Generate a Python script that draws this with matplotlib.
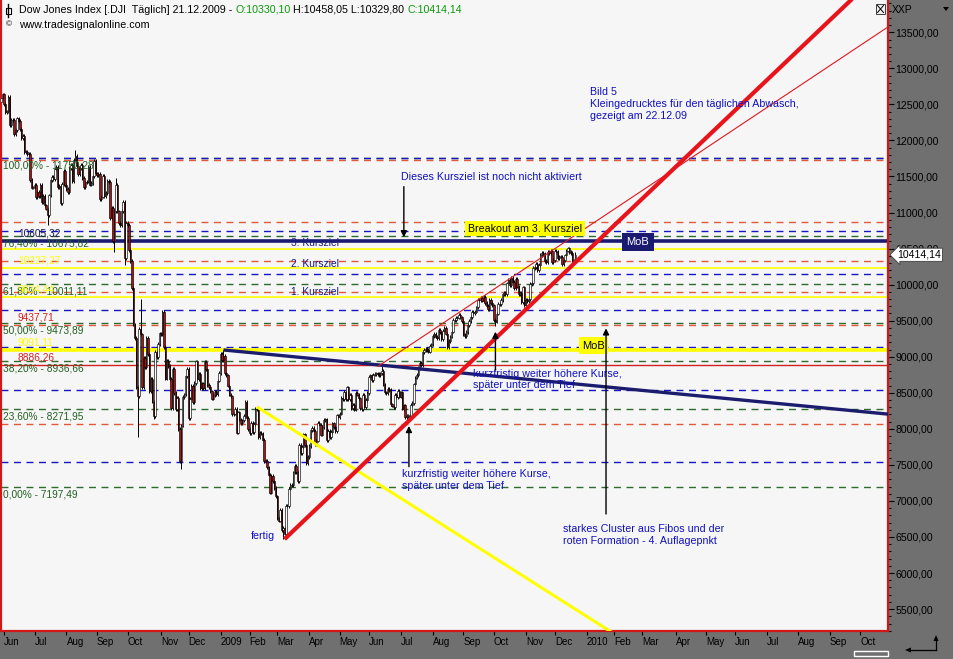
import matplotlib
matplotlib.use("Agg")
import matplotlib.pyplot as plt
import matplotlib.ticker as mticker
from matplotlib.patches import Rectangle, Polygon
from matplotlib.lines import Line2D
import numpy as np
import pandas as pd

plt.rcParams['font.family'] = ['Liberation Sans', 'DejaVu Sans']

# NYSE holidays, used to build the trading-day axis
holidays = ["2008-07-04", "2008-09-01", "2008-11-27", "2008-12-25", "2009-01-01",
            "2009-01-19", "2009-02-16", "2009-04-10", "2009-05-25", "2009-07-03",
            "2009-09-07", "2009-11-26", "2009-12-25", "2010-01-01", "2010-01-18",
            "2010-02-15", "2010-04-02", "2010-05-31", "2010-07-05", "2010-09-06",
            "2010-11-25", "2010-12-24"]

first_open = 12540
# daily closes, 29.05.2008 .. 31.12.2008 (one row per month)
closes_2008 = [
    12593, 12638,
    12503, 12390, 12404, 12604, 12209, 12280, 12289, 12084, 12141, 12307, 12269,
    12160, 12029, 12063, 11842, 11842, 11807, 11811, 11453, 11346, 11350,
    11382, 11215, 11288, 11231, 11384, 11147, 11229, 11100, 11055, 10962, 11239,
    11446, 11496, 11467, 11603, 11632, 11349, 11371, 11132, 11397, 11583, 11378,
    11326, 11284, 11615, 11656, 11432, 11734, 11782, 11642, 11532, 11616, 11660,
    11480, 11349, 11417, 11430, 11628, 11387, 11413, 11502, 11715, 11544,
    11517, 11533, 11188, 11220, 11511, 11231, 11268, 11434, 11421, 10918, 11059,
    10609, 11020, 11388, 11016, 10854, 10825, 11023, 11143, 10365, 10851,
    10831, 10483, 10325, 9955, 9447, 9258, 8579, 8451, 9388, 9311, 8578, 8979,
    8852, 9265, 9034, 8519, 8691, 8379, 8175, 9065, 8991, 9180, 9325,
    9319, 9625, 9139, 8696, 8943, 8870, 8694, 8283, 8835, 8497, 8273, 8425,
    7997, 7552, 8046, 8443, 8479, 8726, 8829,
    8149, 8419, 8591, 8376, 8635, 8934, 8691, 8762, 8565, 8629, 8565, 8924,
    8825, 8604, 8579, 8519, 8419, 8468, 8515, 8483, 8668, 8776,
]
# daily closes, 02.01.2009 .. 21.12.2009
closes_2009 = [
    9034, 8953, 9015, 8770, 8742, 8600, 8474, 8449, 8200, 8212, 8281, 7949,
    8228, 8123, 8078, 8117, 8175, 8375, 8149, 8001,
    7936, 8078, 7956, 8063, 8281, 8270, 7888, 7939, 7933, 7850, 7553, 7555,
    7466, 7366, 7115, 7351, 7270, 7182, 7063,
    6763, 6726, 6876, 6594, 6627, 6547, 6926, 6930, 7170, 7224, 7217, 7395,
    7487, 7400, 7279, 7776, 7660, 7750, 7924, 7776, 7522, 7609,
    7761, 7978, 8017, 7975, 7790, 7837, 8083, 8058, 7920, 8029, 8126, 8131,
    7841, 7970, 7887, 7957, 8076, 8025, 7969, 8186, 8168,
    8212, 8426, 8410, 8512, 8409, 8575, 8418, 8469, 8285, 8331, 8268, 8504,
    8475, 8423, 8292, 8277, 8473, 8300, 8403, 8500,
    8721, 8740, 8675, 8751, 8764, 8764, 8763, 8740, 8770, 8799, 8613, 8505,
    8497, 8555, 8540, 8340, 8323, 8300, 8472, 8438, 8529, 8447,
    8505, 8280, 8324, 8163, 8179, 8183, 8146, 8332, 8359, 8616, 8711, 8744,
    8848, 8916, 8881, 9069, 9093, 9109, 9097, 9071, 9155, 9172,
    9286, 9320, 9280, 9257, 9370, 9338, 9242, 9362, 9398, 9321, 9136, 9218,
    9279, 9350, 9506, 9509, 9540, 9543, 9580, 9545, 9497,
    9310, 9281, 9345, 9441, 9497, 9547, 9627, 9605, 9627, 9684, 9792, 9784,
    9820, 9779, 9830, 9749, 9707, 9666, 9790, 9742, 9712,
    9510, 9488, 9599, 9731, 9726, 9787, 9865, 9885, 9871, 10016, 10063, 9996,
    10092, 10041, 9950, 10082, 9972, 9868, 9883, 9762, 9962, 9713,
    9790, 9772, 9802, 10006, 10023, 10227, 10247, 10291, 10198, 10270, 10407,
    10438, 10426, 10332, 10318, 10451, 10434, 10464, 10310, 10345,
    10471, 10453, 10369, 10389, 10390, 10286, 10338, 10405, 10471, 10502, 10452,
    10441, 10309, 10329, 10414,
]
# intraday extremes that stick out of the bodies
wick_high = {"2008-08-11": 11867, "2008-09-19": 11483, "2008-10-14": 9794,
             "2008-11-04": 9654, "2009-01-06": 9088, "2009-02-09": 8320,
             "2009-06-12": 8878, "2009-12-14": 10516, "2009-12-21": 10458}
wick_low = {"2008-07-15": 10827, "2008-09-18": 10459, "2008-09-29": 10266,
            "2008-10-10": 7882, "2008-10-27": 8140, "2008-11-21": 7449,
            "2008-12-01": 8140, "2009-03-06": 6470, "2009-07-08": 8087,
            "2009-10-02": 9430}

fib_levels = [7197.49, 8271.95, 8936.66, 9473.89, 10011.11, 10675.82, 11750.28]
fib_labels = ["0,00% - 7197,49", "23,60% - 8271,95", "38,20% - 8936,66",
              "50,00% - 9473,89", "61,80% - 10011,11", "76,40% - 10675,82",
              "100,00% - 11750,28"]
blue_levels = [7536, 8539, 9139, 9648, 10148, 10748, 11756]
red_levels = [8067, 9437.71, 9898, 10328, 10865, 11725]
yellow_levels = [9834.44, 10227.27, 10499]
yellow_main = 9091.11
red_main = 8886.26
navy_level = 10605.32
level_labels = [(9437.71, "9437,71", "#D42020"), (9091.11, "9091,11", "#FFFF00"),
                (8886.26, "8886,26", "#D42020"), (10605.32, "10605,32", "#1A1A50"),
                (10227.27, "10227,27", "#FFFF00"), (9834.44, "9834,44", "#FFFF00")]

# trend lines: two anchors (date, price), extended to the right
trend_red = [("2009-03-09", 6470), ("2009-07-10", 8120)]
trend_red_thin = [("2009-06-09", 8862), ("2009-12-17", 10660)]
trend_navy = [("2009-01-06", 9094), ("2009-12-21", 8623)]
trend_yellow = [("2009-02-09", 8305), ("2009-07-10", 6960)]

month_names = ["", "Feb", "Mar", "Apr", "May", "Jun", "Jul", "Aug", "Sep", "Oct", "Nov", "Dec"]

W, H = 954, 659
fig = plt.figure(figsize=(W / 100, H / 100), dpi=100, facecolor='#707070')
ax = fig.add_axes([1 / W, 28 / H, 887 / W, 631 / H])
ax.set_facecolor('#F6F6F6')

cal = pd.bdate_range("2008-05-29", "2010-12-31")
cal = cal[~cal.isin(pd.to_datetime(holidays))]
pos = {d.strftime("%Y-%m-%d"): i for i, d in enumerate(cal)}

close = np.array(closes_2008 + closes_2009, float)
n = len(close)
x = np.arange(n)
opn = np.r_[first_open, close[:-1]]
wick_pad = 25
hi = np.maximum(opn, close) + wick_pad
lo = np.minimum(opn, close) - wick_pad
for d, v in wick_high.items():
    hi[pos[d]] = max(hi[pos[d]], v)
for d, v in wick_low.items():
    lo[pos[d]] = min(lo[pos[d]], v)

X0, X1 = -0.06, 610.2
Y0, Y1 = 5196, 13948
ax.set_xlim(X0, X1)
ax.set_ylim(Y0, Y1)

dash = (0, (5, 4))
for v in fib_levels:
    ax.axhline(v, color='#2E6B2E', lw=1, ls=dash, zorder=1)
for v in red_levels:
    ax.axhline(v, color='#E2583A', lw=1, ls=dash, zorder=1)
for v in blue_levels:
    ax.axhline(v, color='#1414C8', lw=1, ls=dash, zorder=1)
for v in yellow_levels:
    ax.axhline(v, color='#FFFF00', lw=1.2, zorder=1)
ax.axhline(yellow_main, color='#FFFF00', lw=2.6, zorder=1)
ax.axhline(red_main, color='#D42020', lw=1, zorder=1)
ax.axhline(navy_level, color='#1A1A70', lw=2.6, zorder=1)

# candles
up = close >= opn
ax.vlines(x, lo, hi, color='black', lw=0.7, zorder=2)
body_lo = np.minimum(opn, close)
body_h = np.maximum(np.abs(close - opn), 8)
ax.bar(x[up], body_h[up], bottom=body_lo[up], width=0.95, color='white',
       edgecolor='black', lw=0.45, zorder=3)
ax.bar(x[~up], body_h[~up], bottom=body_lo[~up], width=0.95, color='#A81414',
       edgecolor='black', lw=0.45, zorder=3)


def trend(pts, color, lw, x_end=X1 + 5):
    (d0, p0), (d1, p1) = pts
    i0, i1 = pos[d0], pos[d1]
    slope = (p1 - p0) / (i1 - i0)
    ax.plot([i0, x_end], [p0, p0 + slope * (x_end - i0)], color=color, lw=lw,
            zorder=4, solid_capstyle='butt')


trend(trend_yellow, '#FFFF00', 2.2)
trend(trend_navy, '#1C1C6E', 2.4)
trend(trend_red_thin, '#E01820', 0.8)
trend(trend_red, '#E8141C', 3.0)

# level labels
for v, s in zip(fib_levels, fib_labels):
    ax.annotate(s, (1.3, v), xytext=(0, -7.5), textcoords='offset pixels',
                va='center', ha='left', fontsize=7.3, color='#226022', zorder=5)
for v, s, c in level_labels:
    ax.annotate(s, (11.6, v), xytext=(0, 7.5), textcoords='offset pixels',
                va='center', ha='left', fontsize=7.3, color=c, zorder=5)

blue = '#1010C0'
fs = 7.7
ax.text(199.2, 10574, "3. Kursziel", color='#1A1A80', fontsize=7.4, va='center', zorder=5)
ax.text(199.2, 10282, "2. Kursziel", color='#1A1A80', fontsize=7.4, va='center', zorder=5)
ax.text(199.2, 9894, "1. Kursziel", color='#1A1A80', fontsize=7.4, va='center', zorder=5)
ax.text(275.4, 11497, "Dieses Kursziel ist noch nicht aktiviert", color=blue,
        fontsize=fs, va='center', zorder=5)
ax.text(276.0, 7290, "kurzfristig weiter höhere Kurse,\nspäter unter dem Tief",
        color=blue, fontsize=fs, va='center', linespacing=1.2, zorder=5)
ax.text(324.8, 8687, "kurzfristig weiter höhere Kurse,\nspäter unter dem Tief",
        color=blue, fontsize=fs, va='center', linespacing=1.2, zorder=5)
ax.text(386.7, 6528, "starkes Cluster aus Fibos und der\nroten Formation - 4. Auflagepnkt",
        color=blue, fontsize=fs, va='center', linespacing=1.2, zorder=5)
ax.text(405.4, 12506, "Bild 5\nKleingedrucktes für den täglichen Abwasch,\ngezeigt am 22.12.09",
        color=blue, fontsize=fs, va='center', linespacing=1.2, zorder=5)
ax.text(171.8, 6514, "fertig", color=blue, fontsize=fs, va='center', zorder=5)

ax.text(360.3, 10776, "Breakout am 3. Kursziel", color='black', fontsize=fs,
        ha='center', va='center', zorder=6,
        bbox=dict(boxstyle='square,pad=0.25', fc='#FFFF00', ec='none'))
ax.text(438.1, 10592, "MoB", color='white', fontsize=fs + 0.3, ha='center',
        va='center', zorder=6,
        bbox=dict(boxstyle='square,pad=0.4', fc='#1A1A70', ec='none'))
ax.text(407.4, 9152, "MoB", color='black', fontsize=fs + 0.3, ha='center',
        va='center', zorder=6,
        bbox=dict(boxstyle='square,pad=0.3', fc='#FFFF00', ec='none'))

arrows = [((277.1, 11359), (277.1, 10657)), ((280.6, 7475), (280.6, 8040)),
          ((340.1, 8816), (340.1, 9347)), ((416.2, 6819), (416.2, 9394))]
for tail, tip in arrows:
    ax.annotate('', xy=tip, xytext=tail, zorder=6,
                arrowprops=dict(arrowstyle='-|>', color='black', lw=1,
                                mutation_scale=9, shrinkA=0, shrinkB=0))

# axes styling
for side in ('left', 'right', 'bottom'):
    ax.spines[side].set_color('#D01818')
    ax.spines[side].set_linewidth(1.6)
ax.spines['top'].set_visible(False)

ax.yaxis.tick_right()
ax.set_yticks(np.arange(5500, 13501, 500))
ax.yaxis.set_major_formatter(mticker.FuncFormatter(lambda v, p: f"{v:.2f}".replace('.', ',')))
ax.yaxis.set_minor_locator(mticker.MultipleLocator(100))
ax.tick_params(axis='y', which='major', direction='out', length=4, width=0.8,
               colors='black', labelsize=7.6, pad=1.5)
ax.tick_params(axis='y', which='minor', direction='out', length=2, width=0.8, colors='black')

cal_s = pd.Series(np.arange(len(cal)), index=cal)
firsts = cal_s.groupby([cal.year, cal.month]).first()
tick_pos, tick_lab = [], []
for (yr, mo), i in firsts.items():
    if i < 2 or i > X1:
        continue
    tick_pos.append(i)
    tick_lab.append(str(yr) if mo == 1 else month_names[mo - 1])
ax.set_xticks(tick_pos)
ax.set_xticklabels(tick_lab)
ax.tick_params(axis='x', direction='out', length=3, width=0.8, colors='black',
               labelsize=7.0, pad=1.5)
for lbl in ax.get_xticklabels():
    lbl.set_ha('left')

# price tag at the right
ax.annotate("10414,14", xy=(1.0, 10414.14), xycoords=('axes fraction', 'data'),
            xytext=(9, 0), textcoords='offset pixels', ha='left', va='center',
            fontsize=7.6, color='black', annotation_clip=False, zorder=7,
            bbox=dict(boxstyle='larrow,pad=0.15', fc='white', ec='#404040', lw=0.6))


def fpx(px, py):
    return px / W, 1 - py / H


# header text pieces
renderer = fig.canvas.get_renderer()
head = [("Dow Jones Index [.DJI  Täglich] 21.12.2009 - ", 'black'),
        ("O:10330,10", '#0A9A0A'), (" H:10458,05 L:10329,80 ", 'black'),
        ("C:10414,14", '#0A9A0A')]
hx = 19
for s, c in head:
    t = fig.text(*fpx(hx, 10), s, color=c, fontsize=7.7, va='center', ha='left')
    hx += t.get_window_extent(renderer=renderer).width
fig.text(*fpx(6, 25), "©", fontsize=6, va='center', ha='left')
fig.text(*fpx(19, 25), "www.tradesignalonline.com", fontsize=7.7, va='center', ha='left')

# small chart icon in the header
fig.add_artist(Line2D([8.5 / W, 8.5 / W], [1 - 4 / H, 1 - 17 / H], color='black', lw=1))
fig.add_artist(Rectangle(fpx(6, 14), 5 / W, 6 / H, fc='white', ec='black', lw=0.8))

# top right: close box, "XXP" and dropdown
fig.add_artist(Rectangle(fpx(876, 14), 9 / W, 10 / H, fc='#F0F0F0', ec='#404040', lw=0.7))
fig.add_artist(Line2D([877.5 / W, 883.5 / W], [1 - 5.5 / H, 1 - 12.5 / H], color='black', lw=0.7))
fig.add_artist(Line2D([877.5 / W, 883.5 / W], [1 - 12.5 / H, 1 - 5.5 / H], color='black', lw=0.7))
fig.text(*fpx(892, 10), "XXP", fontsize=7.5, va='center', ha='left', color='black')
fig.add_artist(Polygon([fpx(943, 7), fpx(949, 7), fpx(946, 11)], closed=True, fc='black', ec='none'))

# bottom right: scroll thumb and corner arrow
fig.add_artist(Rectangle(fpx(854, 656), 34 / W, 5 / H, fc='#707070', ec='white', lw=1))
fig.add_artist(Line2D([908 / W, 936 / W], [1 - 650 / H, 1 - 650 / H], color='black', lw=0.9))
fig.add_artist(Line2D([936 / W, 936 / W], [1 - 650 / H, 1 - 638 / H], color='black', lw=0.9))
fig.add_artist(Polygon([fpx(905, 650), fpx(911, 647.5), fpx(911, 652.5)], closed=True, fc='black'))
fig.add_artist(Polygon([fpx(936, 635), fpx(933.5, 641), fpx(938.5, 641)], closed=True, fc='black'))

fig.savefig("out.png", dpi=100, facecolor=fig.get_facecolor())
